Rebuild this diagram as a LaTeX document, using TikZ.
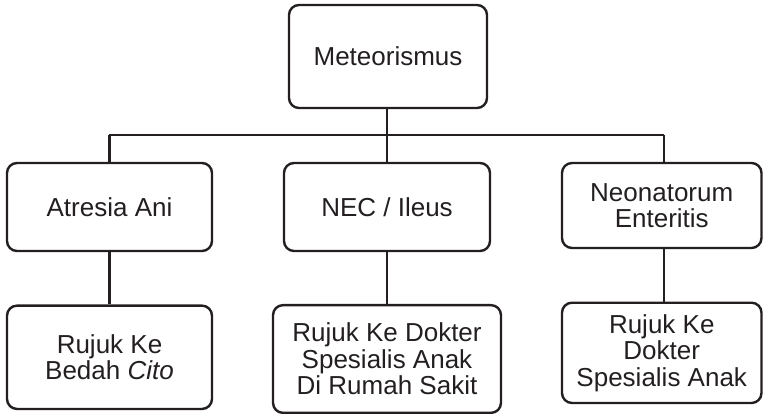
\documentclass[tikz,border=0pt]{standalone}
\usepackage{fontspec}
\setmainfont{Liberation Sans}
\definecolor{ink}{HTML}{231F20}
\begin{document}
\begin{tikzpicture}[x=1pt,y=-1pt,
  box/.style={draw=ink, line width=2.4pt, rounded corners=10pt, inner sep=0pt,
    align=center, text=ink, font=\fontsize{26}{26.5}\selectfont},
  link/.style={draw=ink, line width=2.4pt}]
\useasboundingbox (0,0) rectangle (763,414);

% root
\node[box, minimum width=198pt, minimum height=103pt] (root) at (388,56.5) {Meteorismus};

% diagnoses
\node[box, minimum width=205pt, minimum height=88pt] (atresia) at (109.5,207) {Atresia Ani};
\node[box, minimum width=206pt, minimum height=88pt] (nec) at (387,207) {NEC / Ileus};
\node[box, minimum width=199.5pt, minimum height=85pt] (neo) at (661.75,205.5) {Neonatorum\\Enteritis};

% referrals
\node[box, minimum width=205pt, minimum height=103.3pt] (ref1) at (109.5,357.3) {Rujuk Ke\\Bedah \textit{Cito}};
\node[box, minimum width=228pt, minimum height=107.7pt] (ref2) at (387,359) {Rujuk Ke Dokter\\Spesialis Anak\\Di Rumah Sakit};
\node[box, minimum width=199.5pt, minimum height=100.3pt] (ref3) at (661.75,352.85) {Rujuk Ke\\Dokter\\Spesialis Anak};

% bus line
\coordinate (busL) at (109.3,135);
\coordinate (busM) at (387,135);
\coordinate (busR) at (664,135);

\draw[link] (root.south -| busM) -- (busM);
\draw[link] (busL) -- (busR);
\draw[link] (busL) -- (busL |- atresia.north);
\draw[link] (busM) -- (busM |- nec.north);
\draw[link] (busR) -- (busR |- neo.north);

\draw[link] (busL |- atresia.south) -- (busL |- ref1.north);
\draw[link] (busM |- nec.south) -- (busM |- ref2.north);
\draw[link] (busR |- neo.south) -- (busR |- ref3.north);
\end{tikzpicture}
\end{document}
